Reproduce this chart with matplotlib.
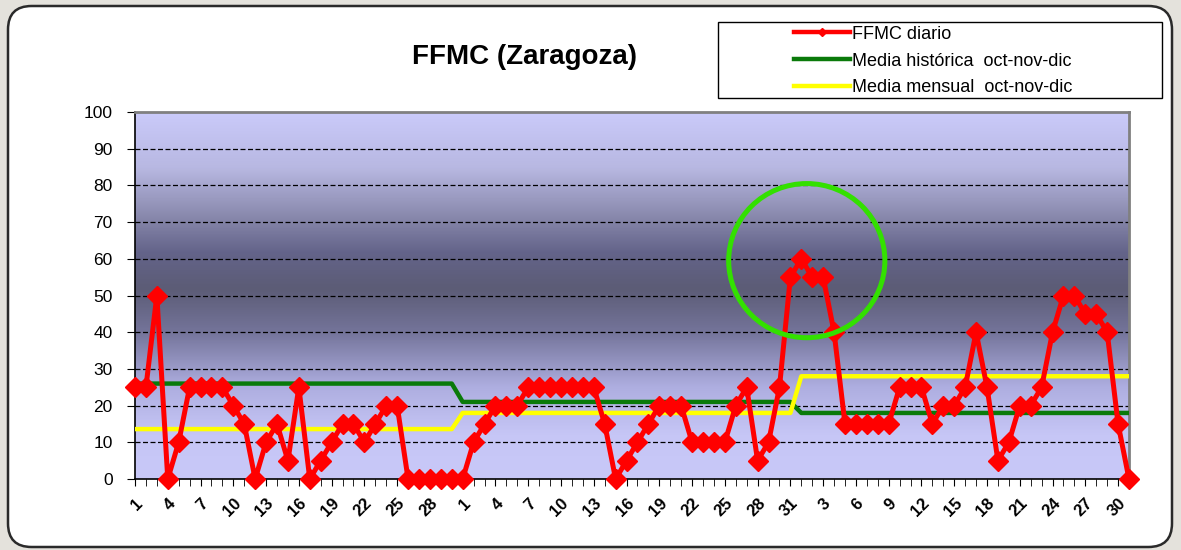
import numpy as np
import matplotlib
matplotlib.use('Agg')
import matplotlib.pyplot as plt
from matplotlib.colors import LinearSegmentedColormap
from matplotlib.patches import Ellipse, FancyBboxPatch, Rectangle
from matplotlib.lines import Line2D

plt.rcParams['font.family'] = ['Liberation Sans', 'DejaVu Sans']

# dias por mes en el eje x
dias_mes = [30, 31, 31]

# FFMC diario
ffmc_diario = [25, 25, 50, 0, 10, 25, 25, 25, 25, 20,
               15, 0, 10, 15, 5, 25, 0, 5, 10, 15,
               15, 10, 15, 20, 20, 0, 0, 0, 0, 0,
               0, 10, 15, 20, 20, 20, 25, 25, 25, 25,
               25, 25, 25, 15, 0, 5, 10, 15, 20, 20,
               20, 10, 10, 10, 10, 20, 25, 5, 10, 25,
               55,
               60, 55, 55, 40, 15, 15, 15, 15, 15, 25,
               25, 25, 15, 20, 20, 25, 40, 25, 5, 10,
               20, 20, 25, 40, 50, 50, 45, 45, 40, 15,
               0]

media_historica_mes = [26, 21, 18]
media_mensual_mes = [13.6, 18, 28]

tick_labels = ['1', '4', '7', '10', '13', '16', '19', '22', '25', '28',
               '1', '4', '7', '10', '13', '16', '19', '22', '25', '28', '31',
               '3', '6', '9', '12', '15', '18', '21', '24', '27', '30']

media_historica = []
media_mensual = []
for n, h, m in zip(dias_mes, media_historica_mes, media_mensual_mes):
    media_historica += [h] * n
    media_mensual += [m] * n

x = np.arange(len(ffmc_diario))
W, H = 1181, 550

fig = plt.figure(figsize=(W / 100, H / 100), dpi=100)
fig.patch.set_facecolor('#e4e2dc')

# marco blanco redondeado
marco = FancyBboxPatch((8 / W, 3 / H), (1172 - 8) / W, (544 - 3) / H,
                       boxstyle='round,pad=0,rounding_size=0.02',
                       mutation_aspect=W / H, zorder=-10,
                       transform=fig.transFigure, fc='white', ec='#2a2a2a', lw=1.8)
fig.patches.append(marco)

ax = fig.add_axes([135 / W, (H - 479) / H, 994 / W, 367 / H])
ax.set_xlim(0, len(ffmc_diario) - 1)
ax.set_ylim(0, 100)

# fondo degradado del area de trazado
fondo = LinearSegmentedColormap.from_list('fondo', [
    (0.0, '#c8c8f8'), (0.12, '#c6c6f6'), (0.25, '#aeaee0'), (0.40, '#74749a'),
    (0.52, '#5c5c76'), (0.62, '#64648a'), (0.72, '#8a8aae'), (0.85, '#b8b8e2'),
    (1.0, '#cacafa')])
grad = np.linspace(0, 1, 256).reshape(-1, 1)
ax.imshow(grad, cmap=fondo, aspect='auto', origin='lower',
          extent=[0, len(ffmc_diario) - 1, 0, 100], zorder=0)

for v in range(10, 100, 10):
    ax.axhline(v, color='black', lw=0.9, ls=(0, (4, 2)), zorder=1)

ax.plot(x, media_historica, color='#0a7a0a', lw=3.2, zorder=3)
ax.plot(x, media_mensual, color='#ffff00', lw=3.2, zorder=3)
ax.plot(x, ffmc_diario, color='#ff0000', lw=3.6, marker='D', ms=10.5,
        zorder=4, clip_on=False)

ax.add_patch(Ellipse((61.5, 59.5), 14.3, 42, fill=False, ec='#33e000', lw=3.6, zorder=5))

ax.set_yticks(range(0, 101, 10))
ax.set_xticks(x, minor=True)
ax.set_xticks(x[::3])
ax.set_xticklabels(tick_labels, rotation=45, ha='right', va='top',
                   rotation_mode='anchor', fontsize=12, fontweight='bold')
ax.tick_params(axis='y', labelsize=12.5, length=6, pad=10, direction='out')
ax.tick_params(axis='x', which='both', length=5, direction='out', pad=7)
ax.spines['top'].set_color('#808080')
ax.spines['right'].set_color('#808080')
ax.spines['top'].set_linewidth(2)
ax.spines['right'].set_linewidth(2)
ax.spines['left'].set_linewidth(1.2)
ax.spines['bottom'].set_linewidth(1.2)

fig.text(524 / W, 1 - 57 / H, 'FFMC (Zaragoza)', ha='center', va='center',
         fontsize=20, fontweight='bold')

# leyenda
fig.patches.append(Rectangle((718 / W, 1 - 98 / H), (1162 - 718) / W, 76 / H,
                             transform=fig.transFigure, fc='white', ec='black', lw=1))
handles = [Line2D([], [], color='#ff0000', lw=3.2, marker='D', ms=4),
           Line2D([], [], color='#0a7a0a', lw=3.2),
           Line2D([], [], color='#ffff00', lw=3.2)]
labels = ['FFMC diario', 'Media histórica  oct-nov-dic', 'Media mensual  oct-nov-dic']
fig.legend(handles, labels, loc='upper left', bbox_to_anchor=(790 / W, 1 - 22 / H),
           frameon=False, fontsize=13, handlelength=3.1, handletextpad=0.15,
           labelspacing=0.55, borderaxespad=0, borderpad=0.2)

fig.savefig('out.png', dpi=100, facecolor=fig.get_facecolor())
